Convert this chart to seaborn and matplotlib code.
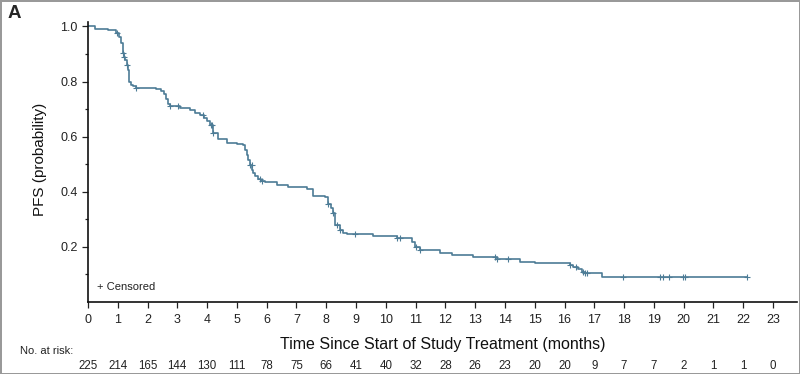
import numpy as np
import pandas as pd
import seaborn as sns
import matplotlib.pyplot as plt
from matplotlib.transforms import blended_transform_factory

# Kaplan-Meier step curve (months, PFS probability)
times = [0, 0.25, 0.66, 0.94, 1.05, 1.11, 1.16, 1.20, 1.25, 1.30, 1.33, 1.37,
         1.39, 1.45, 1.50, 1.61, 2.28, 2.45, 2.56, 2.62, 2.68, 2.75, 3.09,
         3.42, 3.60, 3.76, 3.90, 3.98, 4.10, 4.20, 4.37, 4.66, 5.00, 5.22,
         5.27, 5.33, 5.38, 5.44, 5.50, 5.55, 5.62, 5.72, 5.82, 5.94, 6.34,
         6.73, 7.34, 7.57, 7.96, 8.07, 8.16, 8.24, 8.30, 8.46, 8.57, 8.69,
         9.58, 10.37, 10.87, 10.98, 11.15, 11.82, 12.21, 12.92, 13.72, 14.50,
         15.00, 16.18, 16.30, 16.46, 16.58, 16.69, 17.25, 22.14]
surv = [1.0, 0.99, 0.987, 0.975, 0.962, 0.938, 0.902, 0.89, 0.878, 0.86, 0.842,
        0.82, 0.80, 0.787, 0.782, 0.778, 0.772, 0.765, 0.755, 0.735, 0.72, 0.71,
        0.705, 0.696, 0.687, 0.678, 0.668, 0.658, 0.642, 0.612, 0.59, 0.578,
        0.575, 0.569, 0.55, 0.533, 0.515, 0.497, 0.48, 0.467, 0.456, 0.447,
        0.44, 0.434, 0.426, 0.418, 0.41, 0.386, 0.381, 0.355, 0.34, 0.322,
        0.279, 0.261, 0.25, 0.245, 0.241, 0.231, 0.219, 0.201, 0.189, 0.179,
        0.17, 0.162, 0.155, 0.146, 0.14, 0.135, 0.128, 0.119, 0.11, 0.104,
        0.092, 0.092]

# censored observations (months)
censored = [0.99, 1.19, 1.22, 1.31, 1.61, 2.75, 3.03, 3.87, 4.12, 4.15, 4.21,
            5.44, 5.49, 5.78, 5.83, 8.07, 8.24, 8.35, 8.46, 8.97, 10.37, 10.48,
            11.03, 11.15, 13.67, 13.72, 14.11, 16.19, 16.40, 16.62, 16.69,
            16.75, 17.98, 19.20, 19.32, 19.52, 19.99, 20.05, 22.14]

months = list(range(24))
at_risk = [225, 214, 165, 144, 130, 111, 78, 75, 66, 41, 40, 32, 28, 26, 23,
           20, 20, 9, 7, 7, 2, 1, 1, 0]

color = "#4d7c96"

sns.set_style("ticks")
plt.rcParams["font.family"] = ["Liberation Sans", "DejaVu Sans"]

curve = pd.DataFrame({"time": times, "pfs": surv})
idx = np.searchsorted(np.array(times), np.array(censored), side="right") - 1
cens = pd.DataFrame({"time": censored, "pfs": np.array(surv)[idx]})

fig = plt.figure(figsize=(8, 3.74), dpi=100)
ax = fig.add_axes([0.11, 0.1925, 0.886, 0.7487])

sns.lineplot(data=curve, x="time", y="pfs", drawstyle="steps-post",
             sort=False, estimator=None, color=color, linewidth=1.2, ax=ax)
sns.scatterplot(data=cens, x="time", y="pfs", marker="+", s=20,
                linewidth=0.8, color=color, ax=ax, zorder=3)

ax.set_xlim(0, 23.8)
ax.set_ylim(0, 1.016)
ax.set_xticks(months)
ax.set_yticks([0.2, 0.4, 0.6, 0.8, 1.0])
ax.set_yticks([0.1, 0.3, 0.5, 0.7, 0.9], minor=True)
ax.tick_params(axis="both", which="major", labelsize=9, colors="#222222",
               length=4, width=0.9)
ax.tick_params(axis="x", which="major", pad=4.5)
ax.tick_params(axis="y", which="minor", length=2.5, width=0.9, color="#222222")
ax.yaxis.set_major_formatter(plt.FuncFormatter(lambda v, p: f"{v:.1f}"))
sns.despine(ax=ax)
for s in ("left", "bottom"):
    ax.spines[s].set_color("#111111")
    ax.spines[s].set_linewidth(1.2)

ax.set_xlabel("Time Since Start of Study Treatment (months)", fontsize=11.5,
              color="#111111")
ax.xaxis.set_label_coords(0.5, -0.125)
ax.set_ylabel("PFS (probability)", fontsize=11, color="#111111", va="center")
ax.yaxis.set_label_coords(-0.068, 0.51)

tr = blended_transform_factory(ax.transData, ax.transAxes)
ax.text(0.3, 0.052, "+ Censored", fontsize=8, color="#222222",
        transform=tr, va="center")

for m, n in zip(months, at_risk):
    ax.text(m, -0.229, str(n), transform=tr, ha="center", va="center",
            fontsize=8.3, color="#222222")
fig.text(0.025, 0.062, "No. at risk:", fontsize=8, color="#222222",
         va="center")

fig.text(0.01, 0.965, "A", fontsize=13.5, fontweight="bold", va="center")

fig.patch.set_edgecolor("#999999")
fig.patch.set_linewidth(2)

fig.savefig("out.png", dpi=100)
